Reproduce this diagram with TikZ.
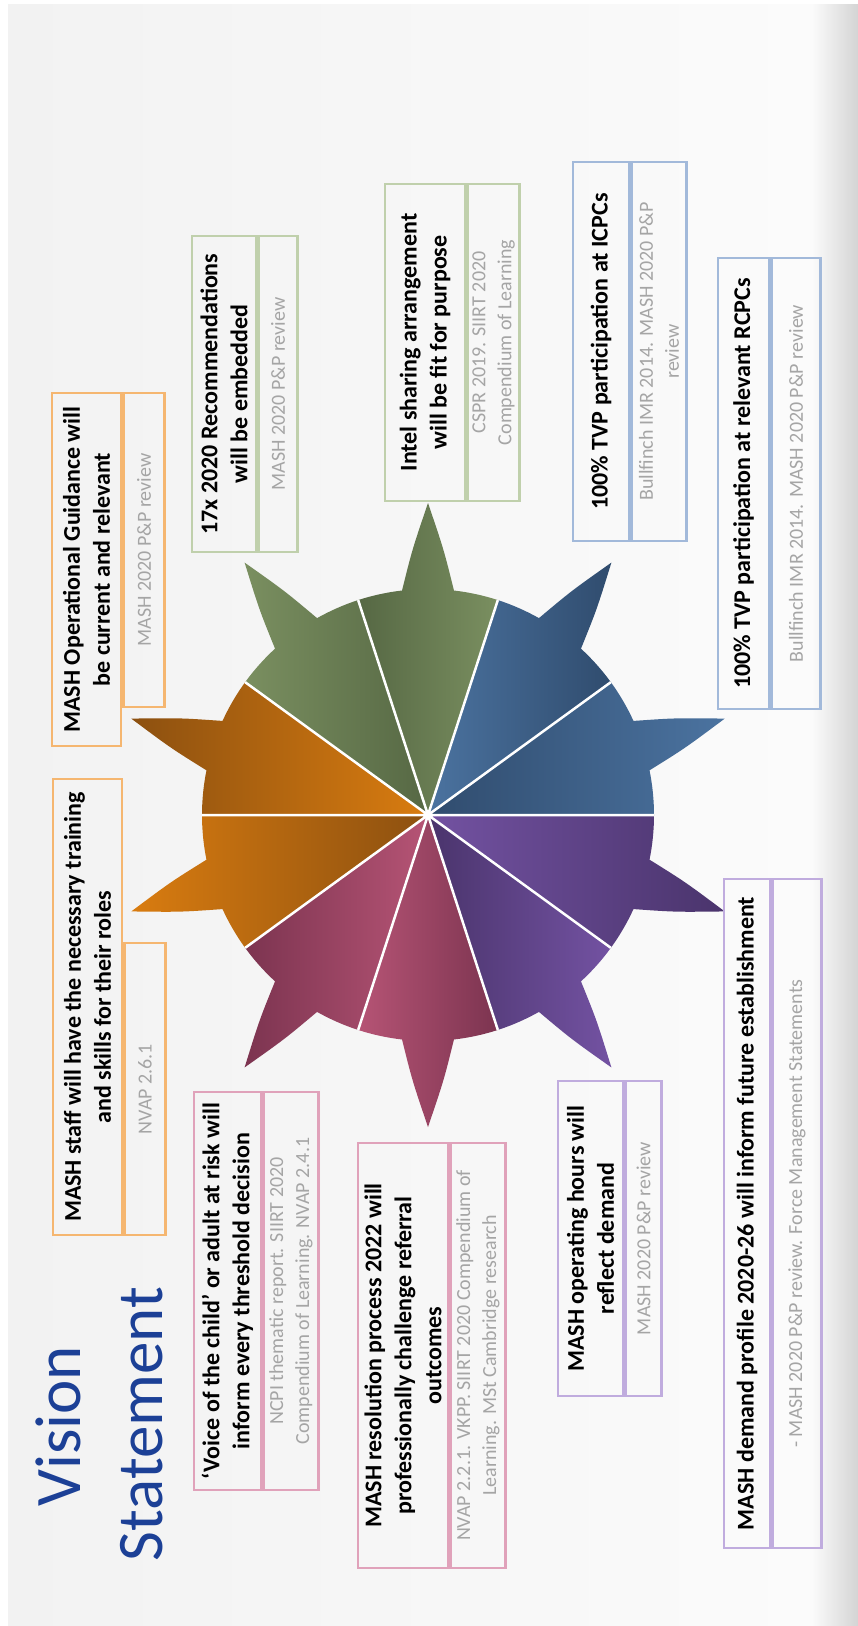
\documentclass[tikz,border=0pt]{standalone}
\usepackage{fontspec}
\setmainfont{Carlito}
\definecolor{slideleft}{RGB}{242,242,242}
\definecolor{slideright}{RGB}{251,251,251}
\definecolor{shadowgray}{RGB}{212,212,212}
\definecolor{visionblue}{RGB}{28,64,150}
\definecolor{srcgray}{RGB}{165,165,165}
\definecolor{orangeline}{RGB}{245,182,112}
\definecolor{greenline}{RGB}{192,208,172}
\definecolor{blueline}{RGB}{162,185,218}
\definecolor{pinkline}{RGB}{224,162,186}
\definecolor{purpleline}{RGB}{192,172,222}
\definecolor{bluelight}{RGB}{75,115,160}
\definecolor{bluedark}{RGB}{48,76,110}
\definecolor{greenlight}{RGB}{122,143,96}
\definecolor{greendark}{RGB}{86,104,68}
\definecolor{orangelight}{RGB}{217,124,16}
\definecolor{orangedark}{RGB}{140,80,16}
\definecolor{pinklight}{RGB}{182,84,117}
\definecolor{pinkdark}{RGB}{124,52,80}
\definecolor{purplelight}{RGB}{115,82,162}
\definecolor{purpledark}{RGB}{74,52,108}
\begin{document}
\begin{tikzpicture}[x=1pt, y=1pt,
  goal/.style={draw, line width=2.5pt, rotate=90, align=center, inner sep=0pt, font=\bfseries\fontsize{24}{30}\selectfont},
  source/.style={draw, line width=2.5pt, rotate=90, align=center, inner sep=0pt, text=srcgray, font=\fontsize{20}{26}\selectfont},
  heading/.style={rotate=90, inner sep=0pt, text=visionblue, font=\fontsize{65}{80}\selectfont},
  spoke/.style={draw=white, line width=2.5pt}]
\useasboundingbox (0,0) rectangle (858,-1626);
\fill[white] (0,0) rectangle (858,-1626);
\shade[left color=slideleft, right color=slideright] (8,-4) rectangle (812,-1626);
\shade[left color=slideright, right color=shadowgray] (812,-4) rectangle (858,-1626);
\begin{scope}[shift={(428,-815)}]
\coordinate (hub) at (0,0);
\shade[left color=bluedark, right color=bluelight] (hub) -- (0:226) arc[start angle=0, end angle=11.4, radius=226] .. controls (14.6:266) .. (18:312) .. controls (21.4:266) .. (24.6:226) arc[start angle=24.6, end angle=36, radius=226] -- cycle;
\shade[left color=bluelight, right color=bluedark] (hub) -- (36:226) arc[start angle=36, end angle=47.4, radius=226] .. controls (50.6:266) .. (54:312) .. controls (57.4:266) .. (60.6:226) arc[start angle=60.6, end angle=72, radius=226] -- cycle;
\shade[left color=greendark, right color=greenlight] (hub) -- (72:226) arc[start angle=72, end angle=83.4, radius=226] .. controls (86.6:266) .. (90:312) .. controls (93.4:266) .. (96.6:226) arc[start angle=96.6, end angle=108, radius=226] -- cycle;
\shade[left color=greenlight, right color=greendark] (hub) -- (108:226) arc[start angle=108, end angle=119.4, radius=226] .. controls (122.6:266) .. (126:312) .. controls (129.4:266) .. (132.6:226) arc[start angle=132.6, end angle=144, radius=226] -- cycle;
\shade[left color=orangedark, right color=orangelight] (hub) -- (144:226) arc[start angle=144, end angle=155.4, radius=226] .. controls (158.6:266) .. (162:312) .. controls (165.4:266) .. (168.6:226) arc[start angle=168.6, end angle=180, radius=226] -- cycle;
\shade[left color=orangelight, right color=orangedark] (hub) -- (180:226) arc[start angle=180, end angle=191.4, radius=226] .. controls (194.6:266) .. (198:312) .. controls (201.4:266) .. (204.6:226) arc[start angle=204.6, end angle=216, radius=226] -- cycle;
\shade[left color=pinkdark, right color=pinklight] (hub) -- (216:226) arc[start angle=216, end angle=227.4, radius=226] .. controls (230.6:266) .. (234:312) .. controls (237.4:266) .. (240.6:226) arc[start angle=240.6, end angle=252, radius=226] -- cycle;
\shade[left color=pinklight, right color=pinkdark] (hub) -- (252:226) arc[start angle=252, end angle=263.4, radius=226] .. controls (266.6:266) .. (270:312) .. controls (273.4:266) .. (276.6:226) arc[start angle=276.6, end angle=288, radius=226] -- cycle;
\shade[left color=purpledark, right color=purplelight] (hub) -- (288:226) arc[start angle=288, end angle=299.4, radius=226] .. controls (302.6:266) .. (306:312) .. controls (309.4:266) .. (312.6:226) arc[start angle=312.6, end angle=324, radius=226] -- cycle;
\shade[left color=purplelight, right color=purpledark] (hub) -- (324:226) arc[start angle=324, end angle=335.4, radius=226] .. controls (338.6:266) .. (342:312) .. controls (345.4:266) .. (348.6:226) arc[start angle=348.6, end angle=360, radius=226] -- cycle;
\draw[spoke] (0:226) -- (180:226) (36:226) -- (216:226) (72:226) -- (252:226) (108:226) -- (288:226) (144:226) -- (324:226);
\end{scope}
\node[heading, anchor=base] (vis) at (80,-1426) {Vision};
\node[heading, anchor=base] (stm) at (162,-1424) {Statement};
\node[goal, draw=orangeline, minimum width=353pt, minimum height=69pt] (g1) at (86.5,-569.5) {MASH Operational Guidance will\\be current and relevant};
\node[source, draw=orangeline, minimum width=314pt, minimum height=41pt, anchor=north east] (s1) at (g1.south east) {MASH 2020 P\&P review};
\node[goal, draw=orangeline, minimum width=456pt, minimum height=69pt] (g2) at (87.5,-1007) {MASH staff will have the necessary training\\and skills for their roles};
\node[source, draw=orangeline, minimum width=292pt, minimum height=41pt, anchor=north west] (s2) at (g2.south west) {NVAP 2.6.1};
\node[goal, draw=greenline, minimum width=316pt, minimum height=64pt] (g3) at (224,-394) {17x 2020 Recommendations\\will be embedded};
\node[source, draw=greenline, minimum width=316pt, minimum height=39pt, anchor=north east] (s3) at (g3.south east) {MASH 2020 P\&P review};
\node[goal, draw=greenline, minimum width=317pt, minimum height=80pt] (g4) at (425,-342.5) {Intel sharing arrangement\\will be fit for purpose};
\node[source, draw=greenline, minimum width=317pt, minimum height=52pt, anchor=north east] (s4) at (g4.south east) {CSPR 2019. SIIRT 2020\\Compendium of Learning};
\node[goal, draw=blueline, minimum width=379pt, minimum height=56pt] (g5) at (601,-351.5) {100\% TVP participation at ICPCs};
\node[source, draw=blueline, minimum width=379pt, minimum height=55pt, anchor=north east] (s5) at (g5.south east) {Bullfinch IMR 2014. MASH 2020 P\&P\\review};
\node[goal, draw=blueline, minimum width=451pt, minimum height=51pt] (g6) at (743.5,-483.5) {100\% TVP participation at relevant RCPCs};
\node[source, draw=blueline, minimum width=451pt, minimum height=49pt, anchor=north east] (s6) at (g6.south east) {Bullfinch IMR 2014. MASH 2020 P\&P review};
\node[goal, draw=pinkline, minimum width=398pt, minimum height=67pt] (g7) at (227.5,-1291) {`Voice of the child' or adult at risk will\\inform every threshold decision};
\node[source, draw=pinkline, minimum width=398pt, minimum height=55pt, anchor=north east] (s7) at (g7.south east) {NCPI thematic report. SIIRT 2020\\Compendium of Learning. NVAP 2.4.1};
\node[goal, draw=pinkline, minimum width=425pt, minimum height=90pt] (g8) at (403,-1355.5) {MASH resolution process 2022 will\\professionally challenge referral\\outcomes};
\node[source, draw=pinkline, minimum width=425pt, minimum height=55pt, anchor=north east] (s8) at (g8.south east) {NVAP 2.2.1. VKPP. SIIRT 2020 Compendium of\\Learning. MSt Cambridge research};
\node[goal, draw=purpleline, minimum width=315pt, minimum height=65pt] (g9) at (590.5,-1238.5) {MASH operating hours will\\reflect demand};
\node[source, draw=purpleline, minimum width=315pt, minimum height=36pt, anchor=north east] (s9) at (g9.south east) {MASH 2020 P\&P review};
\node[goal, draw=purpleline, minimum width=669pt, minimum height=46pt] (g10) at (747,-1213.5) {MASH demand profile 2020-26 will inform future establishment};
\node[source, draw=purpleline, minimum width=669pt, minimum height=49pt, anchor=north east] (s10) at (g10.south east) {- MASH 2020 P\&P review. Force Management Statements};
\end{tikzpicture}
\end{document}
